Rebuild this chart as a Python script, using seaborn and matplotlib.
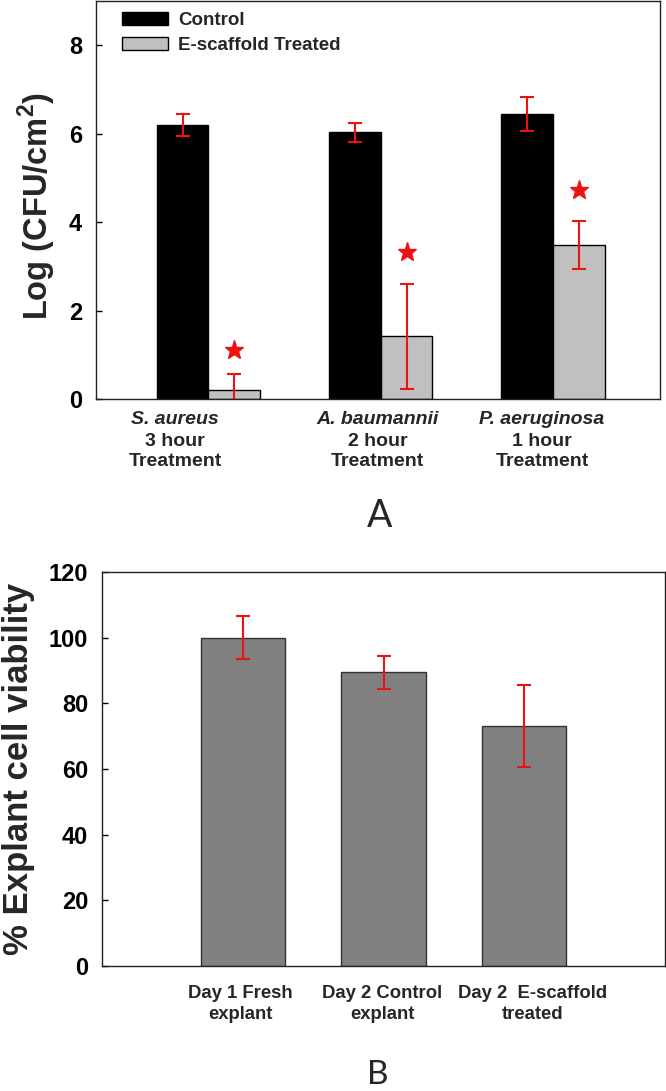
import numpy as np
import pandas as pd
import matplotlib
matplotlib.use("Agg")
import matplotlib.pyplot as plt
import seaborn as sns
from matplotlib.patches import Patch

# ---------------- data ----------------
species = ["S. aureus", "A. baumannii", "P. aeruginosa"]
durations = ["3 hour", "2 hour", "1 hour"]
groups = ["Control", "E-scaffold Treated"]
control_mean = [6.20, 6.03, 6.44]
control_err = [0.25, 0.21, 0.38]
treated_mean = [0.21, 1.42, 3.49]
treated_err = [0.35, 1.19, 0.54]
star_y = [1.10, 3.33, 4.72]

viab_labels = ["Day 1 Fresh\nexplant", "Day 2 Control\nexplant", "Day 2  E-scaffold\ntreated"]
viab_mean = [100.0, 89.4, 73.1]
viab_err = [6.6, 5.1, 12.4]

# ---------------- style ----------------
sns.set_style("white")
plt.rcParams['font.family'] = ['Liberation Sans', 'DejaVu Sans']
plt.rcParams['font.weight'] = 'bold'
plt.rcParams['mathtext.fontset'] = 'custom'
plt.rcParams['mathtext.rm'] = 'Liberation Sans:bold'
plt.rcParams['mathtext.bf'] = 'Liberation Sans:bold'

fig = plt.figure(figsize=(6.66, 10.91), dpi=100)
ax1 = fig.add_axes([0.1441, 0.6343, 0.8468, 0.3648])
ax2 = fig.add_axes([0.1532, 0.1146, 0.8453, 0.3611])

RED = '#ee1111'

# ---------------- panel A ----------------
df1 = pd.DataFrame({
    "species": species * 2,
    "group": [groups[0]] * 3 + [groups[1]] * 3,
    "value": control_mean + treated_mean,
})
sns.barplot(data=df1, x="species", y="value", hue="group", hue_order=groups,
            palette=["black", "#c0c0c0"], width=0.6, saturation=1,
            edgecolor="black", linewidth=1.0, errorbar=None, ax=ax1, legend=False)

x = np.arange(len(species))
dodge = 0.15
ax1.errorbar(x - dodge, control_mean, yerr=control_err, fmt='none', ecolor=RED,
             elinewidth=1.5, capsize=4.7, capthick=1.5, zorder=5)
ax1.errorbar(x + dodge, treated_mean, yerr=treated_err, fmt='none', ecolor=RED,
             elinewidth=1.5, capsize=4.7, capthick=1.5, zorder=5)
ax1.plot(x + dodge, star_y, marker='*', ls='none', color=RED, ms=14, zorder=6)

ax1.set_xlim(-0.653, 2.62)
ax1.set_ylim(0, 9)
ax1.set_yticks([0, 2, 4, 6, 8])
label_shift_top = np.array([-0.195, -0.02, -0.065])
ax1.set_xticks(x + label_shift_top)
ax1.set_xticklabels([d + "\nTreatment" for d in durations], fontsize=14,
                    fontweight='bold', linespacing=1.22)
for xi, sp in zip(x + label_shift_top, species):
    ax1.annotate(sp, xy=(xi, 0), xycoords=ax1.get_xaxis_transform(),
                 xytext=(0, -8.6), textcoords='offset points', ha='center', va='top',
                 fontsize=14, fontweight='bold', fontstyle='italic', annotation_clip=False)
ax1.set_xlabel("")
ax1.set_ylabel(r"Log (CFU/cm$^{2}$)", fontsize=23.5, fontweight='bold')
ax1.yaxis.set_label_coords(-0.067, 0.485)

handles = [Patch(facecolor="black", edgecolor="black", linewidth=1.0),
           Patch(facecolor="#c0c0c0", edgecolor="black", linewidth=1.0)]
ax1.legend(handles, groups, loc='upper left', bbox_to_anchor=(0.046, 0.972),
           frameon=False, borderpad=0, borderaxespad=0, handlelength=2.45,
           handleheight=0.65, handletextpad=0.55, labelspacing=0.42,
           prop={'size': 13.5, 'weight': 'bold'})

ax1.text(0.502, -0.3216, "A", transform=ax1.transAxes, ha='center', va='baseline',
         fontsize=27, fontweight='normal', family=['Lato', 'DejaVu Sans'])

# ---------------- panel B ----------------
df2 = pd.DataFrame({"condition": viab_labels, "value": viab_mean})
sns.barplot(data=df2, x="condition", y="value", color="#808080", width=0.6,
            saturation=1, edgecolor="#333333", linewidth=1.0, errorbar=None, ax=ax2)
x2 = np.arange(len(viab_labels))
ax2.errorbar(x2, viab_mean, yerr=viab_err, fmt='none', ecolor=RED,
             elinewidth=1.5, capsize=5, capthick=1.5, zorder=5)
ax2.set_xlim(-1.0, 3.0)
ax2.set_ylim(0, 120)
ax2.set_yticks(range(0, 121, 20))
label_shift_bot = np.array([-0.02, -0.01, 0.06])
ax2.set_xticks(x2 + label_shift_bot)
ax2.set_xticklabels(viab_labels, fontsize=13.3, fontweight='bold', linespacing=1.3)
ax2.set_xlabel("")
ax2.set_ylabel("% Explant cell viability", fontsize=25, fontweight='bold')
ax2.yaxis.set_label_coords(-0.119, 0.5)
ax2.text(0.489, -0.2995, "B", transform=ax2.transAxes, ha='center', va='baseline',
         fontsize=24, fontweight='normal', family=['Lato', 'DejaVu Sans'])

# ---------------- shared axes styling ----------------
for ax, xpad in ((ax1, 24.6), (ax2, 14)):
    for sp in ax.spines.values():
        sp.set_visible(True)
        sp.set_color('#222222')
        sp.set_linewidth(1.0)
    ax.tick_params(axis='y', direction='in', length=4, width=1, pad=10,
                   labelsize=17, left=True, right=False, colors='black')
    ax.tick_params(axis='x', length=0, pad=xpad)
    for lab in ax.get_yticklabels():
        lab.set_fontweight('bold')

fig.savefig("out.png", dpi=100)
